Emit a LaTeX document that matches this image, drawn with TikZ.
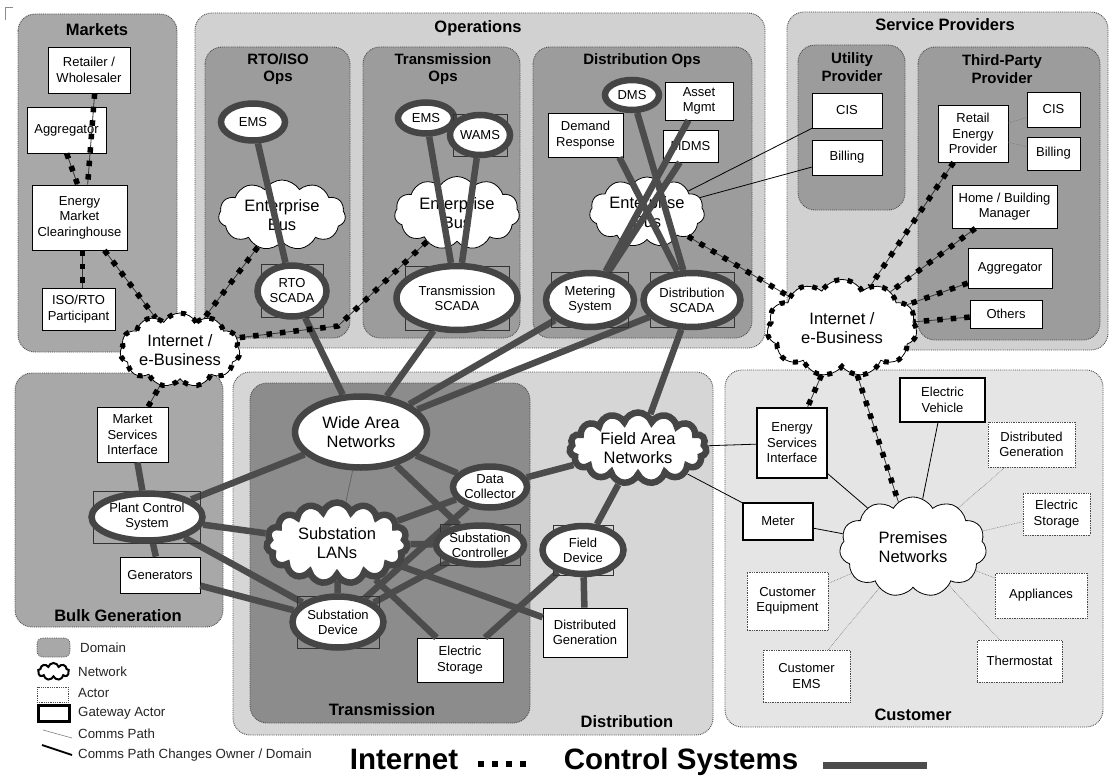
\documentclass[tikz,border=0pt]{standalone}
\usepackage{fontspec}
\setmainfont{Liberation Sans}
\usetikzlibrary{shapes.geometric,shapes.symbols,calc}
\pgfdeclarelayer{bg}
\pgfdeclarelayer{lines}
\pgfdeclarelayer{gw}
\pgfdeclarelayer{top}
\pgfsetlayers{bg,main,lines,gw,top}
\definecolor{cMkt}{gray}{0.66}
\definecolor{cOps}{gray}{0.82}
\definecolor{cSub}{gray}{0.61}
\definecolor{cTrn}{gray}{0.55}
\definecolor{cDst}{gray}{0.84}
\definecolor{cCus}{gray}{0.90}
\definecolor{cLine}{gray}{0.30}
\definecolor{cRing}{gray}{0.27}
\tikzset{
  dombox/.style={draw=black!70, densely dotted, line width=0.9pt, rounded corners=17pt},
  dtitle/.style={font=\bfseries\fontsize{16.5}{18}\selectfont, align=center, inner sep=0pt},
  stitle/.style={font=\bfseries\fontsize{15}{17.5}\selectfont, align=center, inner sep=0pt},
  actor/.style={rectangle, draw=black, line width=0.7pt, fill=white, inner sep=0pt, align=center, font=\fontsize{13}{15.5}\selectfont},
  lactor/.style={actor, draw=black!70, densely dotted},
  gactor/.style={actor, line width=1.6pt},
  gwell/.style={ellipse, draw=cRing, line width=6.5pt, fill=white, inner sep=0pt, align=center, font=\fontsize{13}{15}\selectfont},
  gwrect/.style={rectangle, draw=black!80, line width=0.9pt, inner sep=0pt},
  bus/.style={cloud, cloud puffs=11, cloud puff arc=115, cloud ignores aspect, draw=black, line width=0.8pt, fill=white, inner sep=0pt},
  netcl/.style={cloud, cloud puffs=15, cloud puff arc=140, cloud ignores aspect, draw=cRing, line width=6.5pt, fill=white, inner sep=0pt},
  netell/.style={ellipse, draw=cRing, line width=6.5pt, fill=white, inner sep=0pt, align=center, font=\fontsize{16.5}{19.5}\selectfont},
  inetcl/.style={cloud, cloud puffs=11, cloud puff arc=120, cloud ignores aspect, draw=black, line width=0.8pt, fill=white, inner sep=0pt},
  inetdots/.style={cloud, cloud puffs=11, cloud puff arc=120, cloud ignores aspect, draw=black, line width=5pt, dash pattern=on 5pt off 8.5pt, inner sep=0pt},
  bigtxt/.style={font=\fontsize{16.5}{19.5}\selectfont, align=center},
  inet/.style={draw=black!80, line width=0.8pt, postaction={draw=black, line width=5.5pt, dash pattern=on 5.5pt off 8pt}},
  ctrl/.style={draw=cLine, line width=6.5pt},
  comms/.style={draw=black, line width=0.8pt},
  commsl/.style={draw=black!55, line width=0.6pt, densely dotted},
  legtxt/.style={font=\fontsize{13.3}{15}\selectfont, anchor=west, inner sep=0pt, text=black!85},
  bottxt/.style={font=\bfseries\fontsize{29.5}{32}\selectfont, inner sep=0pt, anchor=base}
}
\begin{document}
\begin{tikzpicture}[x=1pt,y=-1pt]
\useasboundingbox (0,0) rectangle (1111,776);
% ---------------- domains ----------------
\begin{pgfonlayer}{bg}
\fill[white] (0,0) rectangle (1111,776);
\draw[black!45, line width=0.6pt] (5,20) -- (5,7) -- (13,7);
\draw[dombox, fill=cMkt] (18,14) rectangle (177,352);
\draw[dombox, fill=cOps] (195,13) rectangle (765,348);
\draw[dombox, fill=cSub] (205,47) rectangle (350,338);
\draw[dombox, fill=cSub] (363,47) rectangle (520,338);
\draw[dombox, fill=cSub] (533,47) rectangle (752,338);
\draw[dombox, fill=cOps] (787,12) rectangle (1108,350);
\draw[dombox, fill=cSub] (798,45) rectangle (905,210);
\draw[dombox, fill=cSub] (918,47) rectangle (1100,340);
\draw[dombox, fill=cMkt] (15,373) rectangle (223,627);
\draw[dombox, fill=cDst] (233,372) rectangle (713,735);
\draw[dombox, fill=cTrn] (250,383) rectangle (530,723);
\draw[dombox, fill=cCus] (725,370) rectangle (1103,727);
\node[dtitle] (tMkt) at (97,30) {Markets};
\node[dtitle] (tOps) at (478,28) {Operations};
\node[stitle] (tRto) at (278,69) {RTO/ISO\\Ops};
\node[stitle] (tTrO) at (443,69) {Transmission\\Ops};
\node[stitle] (tDsO) at (642,61) {Distribution Ops};
\node[dtitle] (tSrv) at (945,25) {Service Providers};
\node[stitle] (tUtl) at (852,67) {Utility\\Provider};
\node[stitle] (tTpp) at (1002,69) {Third-Party\\Provider};
\node[dtitle] (tBlk) at (118,616) {Bulk Generation};
\node[dtitle] (tTrn) at (382,710) {Transmission};
\node[dtitle] (tDst) at (627,722) {Distribution};
\node[dtitle] (tCus) at (913,715) {Customer};
\end{pgfonlayer}
% ---------------- actors ----------------
\node[actor, minimum width=82, minimum height=46] (ret) at (89,70) {Retailer /\\Wholesaler};
\node[actor, minimum width=79, minimum height=46] (agg) at (66.5,130) {Aggregator};
\node[actor, minimum width=95, minimum height=65] (emc) at (79.5,217.5) {Energy\\Market\\Clearinghouse};
\node[actor, minimum width=73, minimum height=42] (isop) at (78.5,309) {ISO/RTO\\Participant};
\node[actor, minimum width=71, minimum height=55] (msi) at (132.5,434.5) {Market\\Services\\Interface};
\node[actor, minimum width=80, minimum height=36] (gen) at (160,575) {Generators};
\node[actor, minimum width=75, minimum height=44] (dr) at (585.5,135) {Demand\\Response};
\node[actor, minimum width=68, minimum height=38] (am) at (699,101) {Asset\\Mgmt};
\node[actor, minimum width=55, minimum height=32] (mdms) at (690.5,146) {MDMS};
\node[actor, minimum width=70, minimum height=35] (cisA) at (847,110.5) {CIS};
\node[actor, minimum width=70, minimum height=35] (billA) at (847,157.5) {Billing};
\node[actor, minimum width=70, minimum height=57] (rep) at (973,133.5) {Retail\\Energy\\Provider};
\node[actor, minimum width=53, minimum height=35] (cisB) at (1053.5,109.5) {CIS};
\node[actor, minimum width=53, minimum height=33] (billB) at (1053.5,153.5) {Billing};
\node[actor, minimum width=105, minimum height=43] (hbm) at (1004.5,206.5) {Home / Building\\Manager};
\node[actor, minimum width=84, minimum height=40] (aggB) at (1010,268) {Aggregator};
\node[actor, minimum width=72, minimum height=28] (oth) at (1006,314) {Others};
\node[actor, minimum width=86, minimum height=44] (esA) at (460,660) {Electric\\Storage};
\node[actor, minimum width=84, minimum height=49] (dgA) at (585,632.5) {Distributed\\Generation};
\node[gactor, minimum width=70, minimum height=70] (esi) at (792,443) {Energy\\Services\\Interface};
\node[gactor, minimum width=85, minimum height=44] (ev) at (942.5,400) {Electric\\Vehicle};
\node[lactor, minimum width=87, minimum height=45] (dgB) at (1031.5,444.5) {Distributed\\Generation};
\node[lactor, minimum width=67, minimum height=42] (esB) at (1056.5,514) {Electric\\Storage};
\node[gactor, minimum width=70, minimum height=37] (meter) at (778,521.5) {Meter};
\node[lactor, minimum width=81, minimum height=58] (ceq) at (787.5,601) {Customer\\Equipment};
\node[lactor, minimum width=92, minimum height=45] (app) at (1041,595.5) {Appliances};
\node[lactor, minimum width=85, minimum height=42] (thermo) at (1019.5,661) {Thermostat};
\node[lactor, minimum width=87, minimum height=52] (cems) at (806.5,676) {Customer\\EMS};
% enterprise buses
\node[bus, minimum width=127, minimum height=70, label={[bigtxt]center:Enterprise\\Bus}] (busA) at (282,215) {};
\node[bus, minimum width=125, minimum height=73, label={[bigtxt]center:Enterprise\\Bus}] (busB) at (457,213) {};
\node[bus, minimum width=115, minimum height=70, label={[bigtxt]center:Enterprise\\Bus}] (busC) at (647,212) {};
% ---------------- gateway actors and networks ----------------
\begin{pgfonlayer}{gw}
\node[gwell, minimum width=64, minimum height=37] (emsA) at (253,122) {EMS};
\node[gwrect, minimum width=62, minimum height=53] (rtoR) at (292,291) {};
\node[gwell, minimum width=69, minimum height=51] (rto) at (292,291) {RTO\\SCADA};
\node[gwell, minimum width=56, minimum height=31] (emsB) at (426,118) {EMS};
\node[gwrect, minimum width=54, minimum height=42] (wamsR) at (480,135) {};
\node[gwell, minimum width=60, minimum height=40] (wams) at (480,135) {WAMS};
\node[gwrect, minimum width=104, minimum height=64] (tscR) at (457,298) {};
\node[gwell, minimum width=121, minimum height=64] (tsc) at (457,298) {Transmission\\SCADA};
\node[gwell, minimum width=54, minimum height=30] (dms) at (632,95) {DMS};
\node[gwrect, minimum width=77, minimum height=55] (metR) at (590,300) {};
\node[gwell, minimum width=88, minimum height=54] (met) at (590,300) {Metering\\System};
\node[gwrect, minimum width=84, minimum height=55] (dscR) at (692,300) {};
\node[gwell, minimum width=97, minimum height=54] (dsc) at (692,300) {Distribution\\SCADA};
\node[gwrect, minimum width=107, minimum height=52] (pcsR) at (147,517) {};
\node[gwell, minimum width=111, minimum height=47] (pcs) at (147,517) {Plant Control\\System};
\node[gwell, minimum width=74, minimum height=41] (dc) at (490,487) {Data\\Collector};
\node[gwrect, minimum width=80, minimum height=41] (scR) at (480,545) {};
\node[gwell, minimum width=88, minimum height=39] (sc) at (480,545) {Substation\\Controller};
\node[gwrect, minimum width=60, minimum height=50] (fdR) at (583,550) {};
\node[gwell, minimum width=81, minimum height=48] (fd) at (583,550) {Field\\Device};
\node[gwrect, minimum width=82, minimum height=52] (sdR) at (338,622) {};
\node[gwell, minimum width=91, minimum height=51] (sd) at (338,622) {Substation\\Device};
\node[netell, minimum width=132, minimum height=71] (wan) at (361,432) {Wide Area\\Networks};
\node[netcl, minimum width=141, minimum height=81, label={[bigtxt]center:Substation\\LANs}] (slan) at (337,543) {};
\node[netcl, minimum width=137, minimum height=71, label={[bigtxt]center:Field Area\\Networks}] (fan) at (638,448) {};
\node[inetcl, minimum width=147, minimum height=100, label={[bigtxt]center:Premises\\Networks}] (pn) at (913,547) {};
\node[inetcl, minimum width=120, minimum height=74, label={[bigtxt]center:Internet /\\e-Business}] (inL) at (180,350) {};
\node[inetdots, minimum width=120, minimum height=74] (inLd) at (180,350) {};
\node[inetcl, minimum width=150, minimum height=97, label={[bigtxt]center:Internet /\\e-Business}] (inR) at (842,328) {};
\node[inetdots, minimum width=150, minimum height=97] (inRd) at (842,328) {};
\end{pgfonlayer}
% ---------------- connectors ----------------
\begin{pgfonlayer}{lines}
% control systems
\draw[ctrl] (emsA) -- (rto);
\draw[ctrl] (emsB) -- (tsc);
\draw[ctrl] (wams) -- (tsc);
\draw[ctrl] (dms) -- (dsc);
\draw[ctrl] ($(dr.south east)+(-4,0)$) -- (dsc);
\draw[ctrl] (am) -- (met);
\draw[ctrl] (mdms) -- (met);
\draw[ctrl] (rto) -- (wan);
\draw[ctrl] (tsc) -- (wan);
\draw[ctrl] (met) -- (wan);
\draw[ctrl] (dsc) -- (wan);
\draw[ctrl] (dsc) -- (fan);
\draw[ctrl] (msi) -- (pcs);
\draw[ctrl] (pcs) -- (gen);
\draw[ctrl] (pcs) -- (wan);
\draw[ctrl] (pcs) -- (slan);
\draw[ctrl] (pcs) -- (sd);
\draw[ctrl] (gen) -- (sd);
\draw[ctrl] (wan) -- (dc);
\draw[ctrl] (wan) -- (sc);
\draw[ctrl] (dc) -- (fan);
\draw[ctrl] (slan) -- (sd);
\draw[ctrl] (slan) -- (sc);
\draw[ctrl] (slan) -- (dc);
\draw[ctrl] (slan) -- (esA);
\draw[ctrl] (slan) -- (dgA);
\draw[ctrl] (sd) -- (sc);
\draw[ctrl] (sd) -- (dc);
\draw[ctrl] (fan) -- (fd);
\draw[ctrl] (fd) -- (esA);
\draw[ctrl] (fd) -- (dgA);
% comms paths
\draw[comms, draw=black!60] (wan) -- (slan);
\draw[comms] (busC) -- (cisA);
\draw[comms] (busC) -- (billA);
\draw[comms] (fan) -- (esi);
\draw[comms] (fan) -- (meter);
\draw[comms] (esi) -- (pn);
\draw[comms] (meter) -- (pn);
\draw[comms] (ev) -- (pn);
\draw[commsl] (rep) -- (cisB);
\draw[commsl] (rep) -- (billB);
\draw[commsl] (dgB) -- (pn);
\draw[commsl] (esB) -- (pn);
\draw[commsl] (app) -- (pn);
\draw[commsl] (thermo) -- (pn);
\draw[commsl] (ceq) -- (pn);
\draw[commsl] (cems) -- (pn);
% internet paths
\draw[inet] ($(emc.south west)+(51,0)$) -- ($(isop.north west)+(41,0)$);
\draw[inet] (emc) -- (inL);
\draw[inet] (busA) -- (inL);
\coordinate (bendB) at (338,326);
\draw[inet] (busB) -- (bendB) -- (inL.12);
\draw[inet] (msi) -- (inL);
\draw[inet] (busC) -- (inR);
\draw[inet] (rep) -- (inR);
\draw[inet] (hbm) -- (inR);
\draw[inet] (aggB) -- (inR);
\draw[inet] (oth) -- (inR);
\draw[inet] (inR) -- (esi);
\draw[inet] (inR) -- (pn);
\end{pgfonlayer}
\begin{pgfonlayer}{top}
\draw[inet] ($(ret.south west)+(47,0)$) -- ($(emc.north west)+(56,0)$);
\draw[inet] ($(agg.south west)+(40,0)$) -- ($(emc.north west)+(46,0)$);
\end{pgfonlayer}
% ---------------- legend ----------------
\node[rectangle, rounded corners=6pt, draw=black!70, densely dotted, line width=0.8pt, fill=cMkt, minimum width=33, minimum height=19] (lgDom) at (53.5,647.5) {};
\node[legtxt] (lgDomT) at (80,648) {Domain};
\node[cloud, cloud puffs=9, cloud ignores aspect, draw=black, line width=2pt, minimum width=31, minimum height=17] (lgNet) at (53.5,671.5) {};
\node[legtxt] (lgNetT) at (78,672) {Network};
\node[rectangle, draw=black!70, densely dotted, line width=0.8pt, minimum width=31, minimum height=15] (lgAct) at (52.5,694.5) {};
\node[legtxt] (lgActT) at (78,693) {Actor};
\node[rectangle, draw=black, line width=2.5pt, minimum width=31, minimum height=16] (lgGw) at (54,713.5) {};
\node[legtxt] (lgGwT) at (78,713) {Gateway Actor};
\coordinate (lgC1a) at (43,730);
\coordinate (lgC1b) at (72,738);
\draw[black!50, line width=0.6pt] (lgC1a) -- (lgC1b);
\node[legtxt] (lgC1T) at (78,734) {Comms Path};
\coordinate (lgC2a) at (42,745);
\coordinate (lgC2b) at (72,755);
\draw[black, line width=1.8pt] (lgC2a) -- (lgC2b);
\node[legtxt] (lgC2T) at (78,755) {Comms Path Changes Owner / Domain};
\node[bottxt] (lgInet) at (404,769) {Internet};
\coordinate (lgIa) at (478,764);
\coordinate (lgIb) at (526,764);
\draw[black, line width=6pt, dash pattern=on 6pt off 8pt] (lgIa) -- (lgIb);
\node[bottxt] (lgCtl) at (681,769) {Control Systems};
\coordinate (lgCa) at (823,765);
\coordinate (lgCb) at (927,765);
\draw[cLine, line width=7pt] (lgCa) -- (lgCb);
\end{tikzpicture}
\end{document}
